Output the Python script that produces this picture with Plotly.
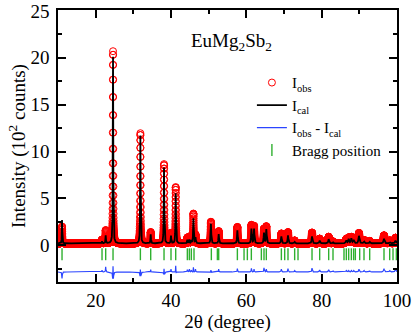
import numpy as np
import plotly.graph_objects as go

# ---- data ----
two_theta_start = 10.0
two_theta_end = 100.0
two_theta_step = 0.01
background = 0.2          # flat background (10^2 counts)

# reflections: position (deg), calculated amplitude, observed amplitude, FWHM (deg)
peak_pos = [11.07, 21.69, 22.66, 24.61, 31.87, 34.61, 38.15, 40.0, 41.25, 44.34,
            44.87, 45.4, 45.95, 46.5, 50.6, 52.66, 57.62, 61.35, 62.05, 64.69,
            65.31, 69.3, 71.06, 72.83, 77.44, 79.47, 81.86, 83.01, 86.55, 87.17,
            87.88, 88.49, 89.9, 91.24, 92.75, 96.55, 98.06, 99.6]
peak_cal = [2.5, 0.2, 0.85, 19.9, 11.5, 0.95, 8.1, 0.8, 5.35, 0.35,
            0.4, 0.3, 2.65, 0.6, 2.1, 1.0, 1.4, 1.55, 1.55, 1.1,
            1.5, 0.75, 0.85, 0.15, 0.75, 0.3, 0.45, 0.1, 0.3, 0.45,
            0.5, 0.35, 0.8, 0.2, 0.15, 0.5, 0.15, 0.3]
peak_obs = [1.8, 0.4, 1.4, 20.5, 11.75, 1.2, 8.45, 1.1, 6.0, 0.6,
            0.7, 0.5, 3.15, 0.9, 2.3, 1.3, 1.75, 1.95, 1.85, 1.55,
            1.8, 1.05, 1.2, 0.3, 1.15, 0.5, 0.7, 0.2, 0.45, 0.6,
            0.65, 0.5, 1.1, 0.35, 0.25, 0.85, 0.3, 0.6]
peak_fwhm = [0.13, 0.15, 0.15, 0.15, 0.16, 0.16, 0.17, 0.17, 0.18, 0.18,
             0.18, 0.18, 0.19, 0.19, 0.2, 0.2, 0.22, 0.22, 0.22, 0.23,
             0.23, 0.24, 0.24, 0.25, 0.26, 0.27, 0.28, 0.28, 0.32, 0.32,
             0.32, 0.32, 0.32, 0.32, 0.32, 0.34, 0.34, 0.35]

bragg_pos = [11.07, 21.69, 22.66, 24.61, 31.87, 34.61, 38.15, 40.0, 41.25, 44.34,
             44.87, 45.4, 46.11, 50.71, 52.31, 52.66, 57.62, 59.39, 60.27, 61.33,
             63.99, 64.69, 65.31, 69.3, 70.18, 71.06, 72.83, 73.72, 77.44, 79.47,
             81.86, 83.01, 85.93, 86.55, 87.17, 87.88, 88.49, 88.94, 90.09, 91.24,
             92.75, 96.55, 98.06, 98.94, 99.83]

diff_offset = -2.85
bragg_level = -0.96

# ---- build profiles from the peak list ----
x = np.arange(two_theta_start, two_theta_end + two_theta_step / 2, two_theta_step)


def profile(xv, amps, width_scale=1.0, eta=0.7):
    yv = np.full_like(xv, background)
    for p, a, w in zip(peak_pos, amps, peak_fwhm):
        d = (xv - p) / (w * width_scale / 2.0)
        yv += a * (eta / (1.0 + d ** 2) + (1 - eta) * np.exp(-np.log(2) * d ** 2))
    return yv


y_cal = profile(x, peak_cal)
y_obs = profile(x, peak_obs, width_scale=0.92)
y_diff = y_obs - y_cal + diff_offset

FONT = "Liberation Serif"

fig = go.Figure()
fig.add_trace(go.Scatter(
    x=x, y=y_obs, mode="markers", name="I<sub>obs</sub>",
    marker=dict(symbol="circle-open", size=7, color="#ff0000",
                line=dict(width=1, color="#ff0000")),
))
fig.add_trace(go.Scatter(
    x=x, y=y_cal, mode="lines", name="I<sub>cal</sub>",
    line=dict(color="black", width=1.8),
))
fig.add_trace(go.Scatter(
    x=x, y=y_diff, mode="lines", name="I<sub>obs</sub> - I<sub>cal</sub>",
    line=dict(color="#2b45ff", width=1.2),
))
fig.add_trace(go.Scatter(
    x=bragg_pos, y=[bragg_level] * len(bragg_pos), mode="markers",
    name="Bragg position",
    marker=dict(symbol="line-ns-open", size=8.5, color="#2fb02f",
                line=dict(width=1.4, color="#2fb02f")),
))

axis_common = dict(
    showline=True, linecolor="black", linewidth=1.5, mirror="ticks",
    ticks="inside", ticklen=8, tickwidth=1.5, tickcolor="black",
    showgrid=False, zeroline=False, automargin=False,
    tickfont=dict(family=FONT, size=19, color="black"),
)

fig.update_layout(
    width=415, height=333,
    margin=dict(l=58, r=18, t=10, b=51),
    paper_bgcolor="white", plot_bgcolor="white",
    font=dict(family=FONT, size=19, color="black"),
    showlegend=True,
    legend=dict(x=0.572, y=0.793, xanchor="left", yanchor="top",
                bgcolor="rgba(0,0,0,0)", borderwidth=0,
                font=dict(family=FONT, size=15, color="black"),
                tracegroupgap=0),
    xaxis=dict(range=[10, 100], dtick=20, tick0=0,
               minor=dict(dtick=10, ticklen=4, tickwidth=1.5, ticks="inside",
                          tickcolor="black"),
               title=dict(text="2θ (degree)", standoff=0,
                          font=dict(family=FONT, size=19, color="black")),
               ticklabelstandoff=0,
               **axis_common),
    yaxis=dict(range=[-3.92, 25.1], dtick=5, tick0=0,
               minor=dict(dtick=2.5, ticklen=4, tickwidth=1.5, ticks="inside",
                          tickcolor="black"),
               title=dict(text="Intensity (10<sup>2</sup> counts)", standoff=0,
                          font=dict(family=FONT, size=19, color="black")),
               ticklabelstandoff=3,
               **axis_common),
    annotations=[dict(
        text="EuMg<sub>2</sub>Sb<sub>2</sub>", xref="paper", yref="paper",
        x=0.512, y=0.883, xanchor="center", yanchor="middle", showarrow=False,
        font=dict(family=FONT, size=19, color="black"),
    )],
)

# remove the default page margin so the 415x333 figure fills the window
fig.write_html("out.html", config={"displayModeBar": False},
               post_script="document.body.style.margin='0';")
